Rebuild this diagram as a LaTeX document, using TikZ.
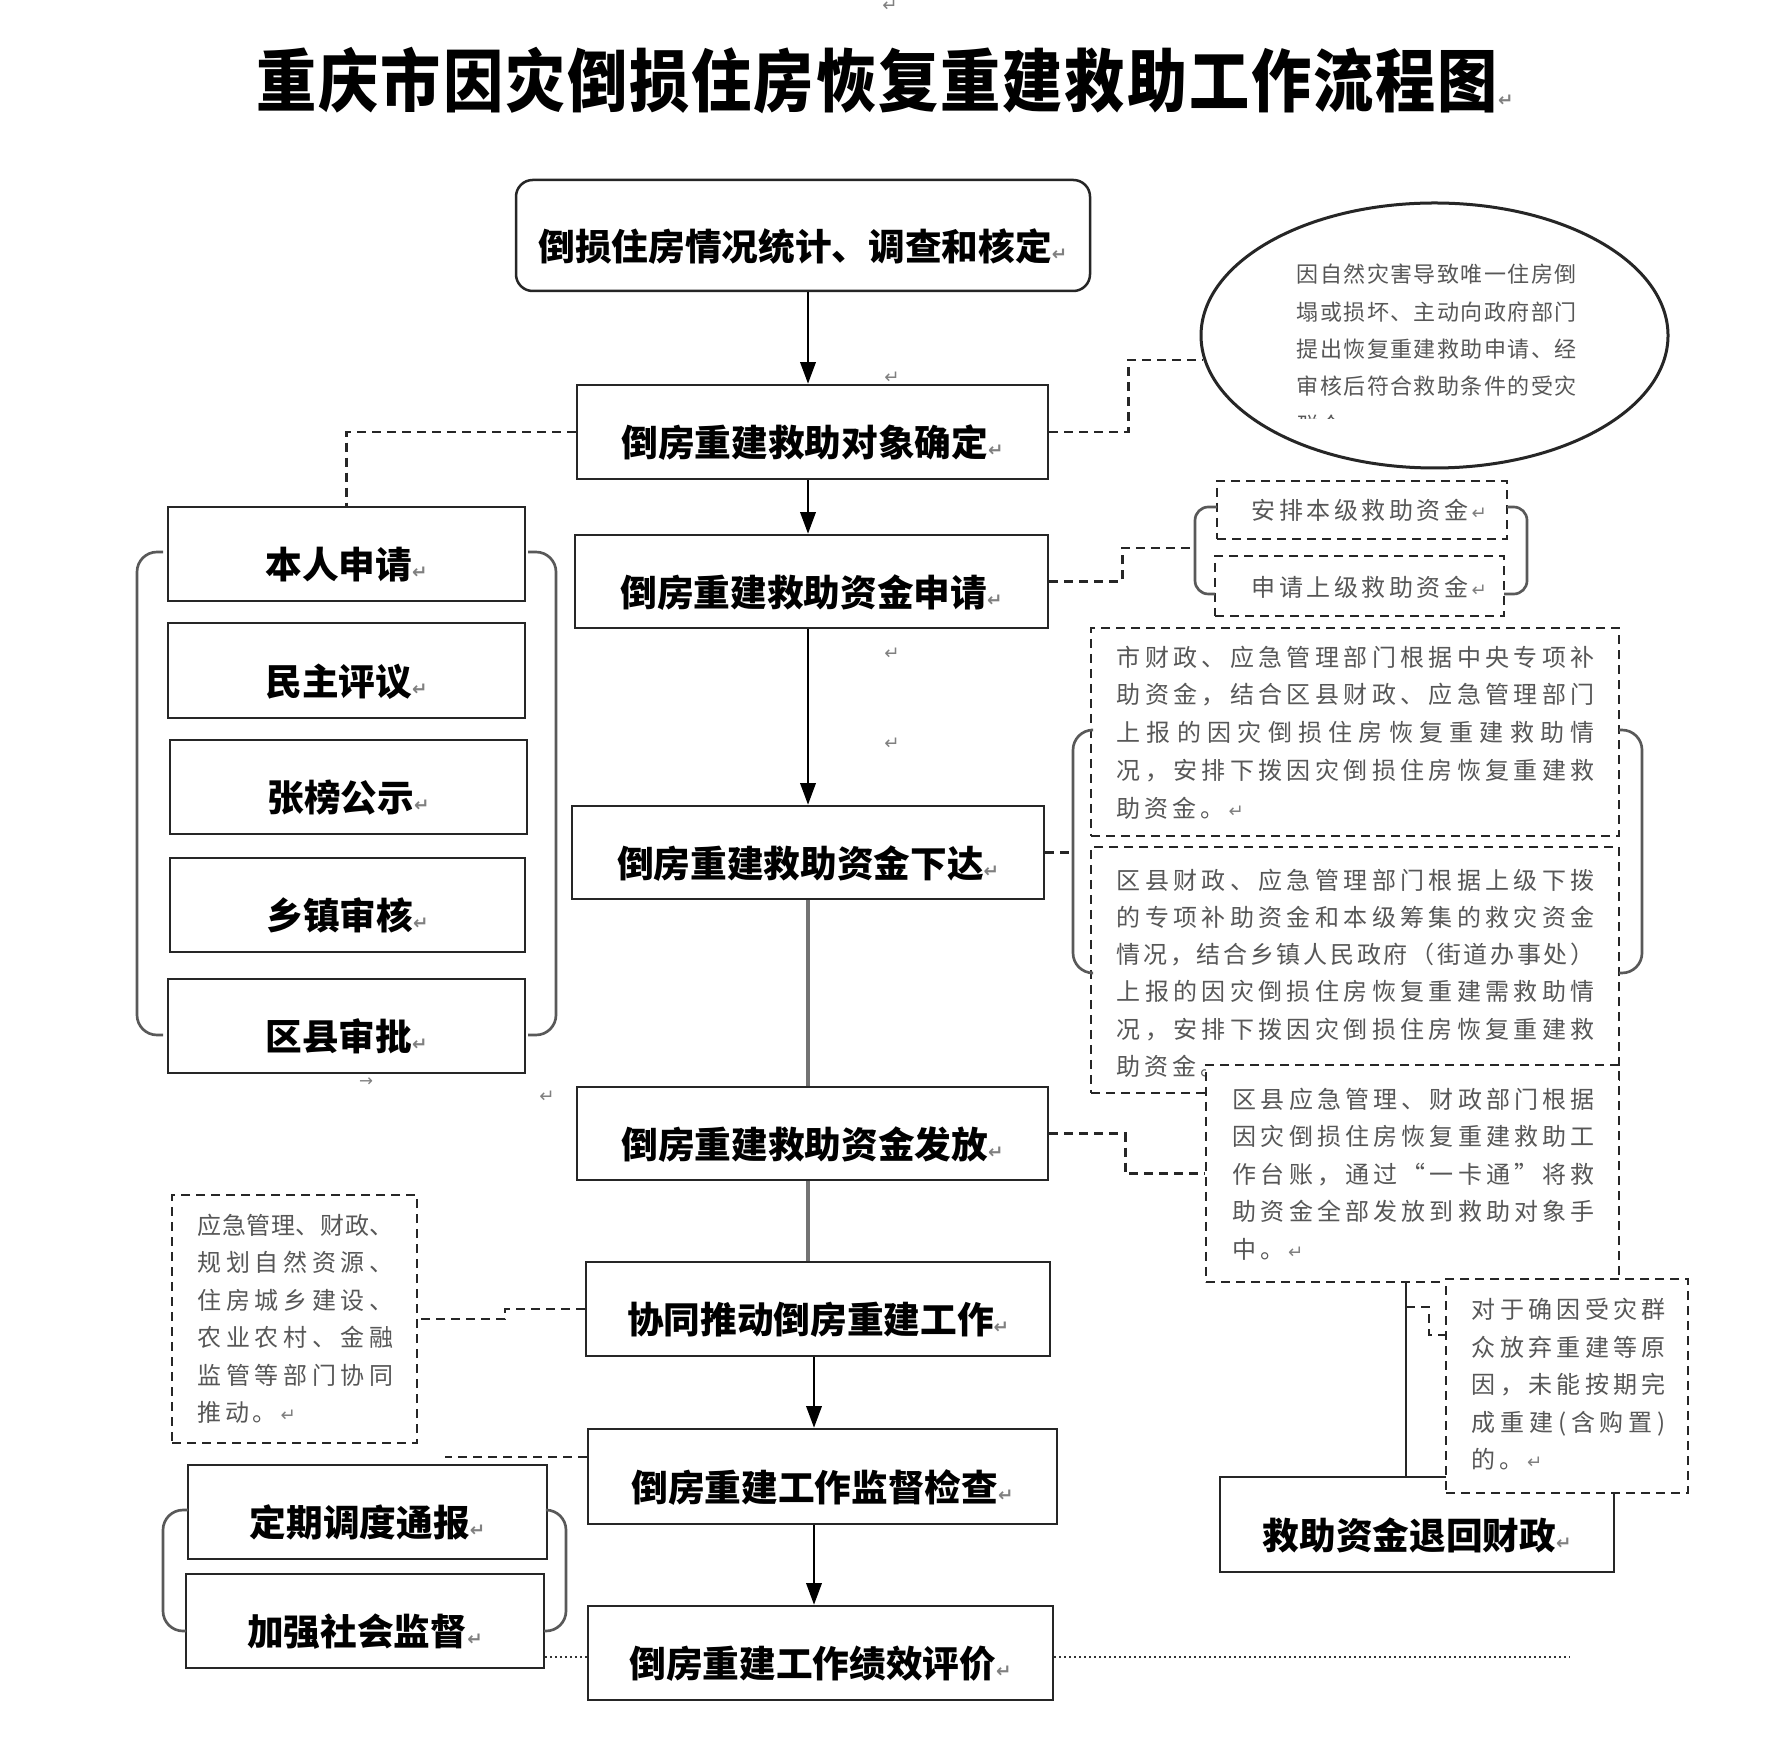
\documentclass[tikz,border=0pt]{standalone}
\usepackage{fontspec}
\usetikzlibrary{arrows.meta,shapes.geometric,fit}
\setmainfont{Noto Sans CJK SC}
\newfontfamily\cjk{Noto Sans CJK SC}
\newfontfamily\titlefont[FakeStretch=0.88,LetterSpace=3]{Noto Sans CJK SC}
\newfontfamily\dejavu{DejaVu Sans}
\newcommand\ret{{\dejavu\fontsize{5.5pt}{5.5pt}\selectfont\color{black!50}↵}}
\newcommand\dn[1]{\raisebox{-8pt}[\height][\depth]{#1}}
\newcommand\bxfont{\cjk\bfseries\fontsize{11pt}{13pt}\selectfont}
\newcommand\gsmall{\cjk\fontsize{6.6pt}{11.2pt}\selectfont}
\newcommand\gmid{\cjk\fontsize{7.2pt}{11.25pt}\selectfont}
\newdimen\jw
\newdimen\cpitch
\newcommand\setjw[2]{\global\jw=#1\relax\global\cpitch=#2\relax}
\makeatletter
\def\jl#1{\hbox to\jw{\jl@#1\@nil}}
\def\jl@#1{#1\futurelet\jl@next\jl@@}
\def\jl@@{\ifx\jl@next\@nil\expandafter\@gobble\else\hfill\expandafter\jl@\fi}
\def\cl#1{\cl@#1\@nil}
\def\cl@#1{\ifx#1\@nil\else\hbox to\cpitch{#1\hss}\expandafter\cl@\fi}
\makeatother
\tikzset{
 box/.style={draw=black!85,line width=0.75pt,fill=white,inner sep=0pt,font=\bxfont},
 rbox/.style={box,rounded corners=5pt},
 dbox/.style={draw=black!85,line width=0.75pt,dash pattern=on 2.7pt off 1.8pt,fill=white,inner sep=0pt},
 gtext/.style={text=black!66,inner sep=0pt,align=left,anchor=west},
 dsh/.style={draw=black!85,line width=0.75pt,dash pattern=on 2.7pt off 1.8pt},
 arr/.style={draw=black,line width=0.75pt,-{Triangle[length=6.5pt,width=4.6pt]}},
 gline/.style={draw=black!55,line width=1pt},
 sline/.style={draw=black!85,line width=0.8pt},
 brk/.style={draw=black!65,line width=0.8pt,rounded corners=6pt},
 sbrk/.style={draw=black!65,line width=0.8pt,rounded corners=4pt},
 dots/.style={draw=black!80,line width=0.8pt,dash pattern=on 0.6pt off 0.9pt},
 stray/.style={inner sep=0pt,text=black!50},
}
\begin{document}
\begin{tikzpicture}[x=0.3pt,y=-0.3pt]
\path[fill=white] (0,0) rectangle (1767,1758);
\useasboundingbox (0,0) rectangle (1767,1758);

% title
\node[inner sep=0pt,font=\titlefont\bfseries\fontsize{20.5pt}{24pt}\selectfont] (title) at (885,81) {重庆市因灾倒损住房恢复重建救助工作流程图\ret};

% stray paragraph marks
\node[stray] (m1) at (890,6) {\ret};
\node[stray] (m2) at (892,378) {\ret};
\node[stray] (m3) at (892,654) {\ret};
\node[stray] (m4) at (892,744) {\ret};
\node[stray] (m5) at (547,1097) {\ret};
\node[stray,font=\dejavu\fontsize{5pt}{5pt}\selectfont] (m6) at (366,1082) {→};

% spines
\coordinate (sa) at (808,0);
\coordinate (sb) at (814,0);

% main column
\node[rbox,fit={(516,180)(1090,291)}] (b1) {\dn{倒损住房情况统计、调查和核定\ret}};
\node[box,fit={(577,385)(1048,479)}] (b2) {\dn{倒房重建救助对象确定\ret}};
\node[box,fit={(575,535)(1048,628)}] (b3) {\dn{倒房重建救助资金申请\ret}};
\node[box,fit={(572,806)(1044,899)}] (b4) {\dn{倒房重建救助资金下达\ret}};
\node[box,fit={(577,1087)(1048,1180)}] (b5) {\dn{倒房重建救助资金发放\ret}};
\node[box,fit={(586,1262)(1050,1356)}] (b6) {\dn{协同推动倒房重建工作\ret}};
\node[box,fit={(588,1429)(1057,1524)}] (b7) {\dn{倒房重建工作监督检查\ret}};
\node[box,fit={(588,1606)(1053,1700)}] (b8) {\dn{倒房重建工作绩效评价\ret}};

\draw[arr] (sa |- b1.south) -- (sa |- b2.north);
\draw[arr] (sa |- b2.south) -- (sa |- b3.north);
\draw[arr] (sa |- b3.south) -- (sa |- b4.north);
\draw[gline] (sa |- b4.south) -- (sa |- b5.north);
\draw[gline] (sa |- b5.south) -- (sa |- b6.north);
\draw[arr] (sb |- b6.south) -- (sb |- b7.north);
\draw[arr] (sb |- b7.south) -- (sb |- b8.north);

% left column
\node[box,fit={(168,507)(525,601)}] (l1) {\dn{本人申请\ret}};
\node[box,fit={(168,623)(525,718)}] (l2) {\dn{民主评议\ret}};
\node[box,fit={(170,740)(527,834)}] (l3) {\dn{张榜公示\ret}};
\node[box,fit={(170,858)(525,952)}] (l4) {\dn{乡镇审核\ret}};
\node[box,fit={(168,979)(525,1073)}] (l5) {\dn{区县审批\ret}};
\draw[brk] (163,552) -- (137,552) -- (137,1035) -- (163,1035);
\draw[brk] (528,552) -- (556,552) -- (556,1035) -- (528,1035);
\draw[dsh] (b2.west) -| (l1.north);

% ellipse
\node[draw=black!85,line width=0.9pt,ellipse,fill=white,minimum width=140.1pt,minimum height=79.5pt,inner sep=0pt] (ell) at (1434.5,335.5) {};
\setjw{84pt}{7pt}
\node[gtext,font=\gsmall] (et) at (1296,330.5) {\jl{因自然灾害导致唯一住房倒}\\\jl{塌或损坏、主动向政府部门}\\\jl{提出恢复重建救助申请、经}\\\jl{审核后符合救助条件的受灾}};
\begin{scope}
\clip (1285,405) rectangle (1400,419);
\node[gtext,font=\gsmall] (et5) at (1296,425) {\cl{群众}};
\end{scope}
\draw[dsh] (b2.east) -- ++(79,0) |- (ell.186);

% funds request boxes
\node[dbox,fit={(1217,481)(1507,539)}] (r1) {};
\node[dbox,fit={(1215,556)(1504,616)}] (r2) {};
\setjw{80pt}{8.25pt}
\node[gtext,font=\gmid] (tr1) at (1251,510) {\cl{安排本级救助资金}\ret};
\node[gtext,font=\gmid] (tr2) at (1251,587) {\cl{申请上级救助资金}\ret};
\draw[sbrk] (1217,507) -- (1195,507) -- (1195,594) -- (1215,594);
\draw[sbrk] (1507,507) -- (1527,507) -- (1527,594) -- (1504,594);
\coordinate (k2) at (1195,548);
\draw[dsh] (b3.east) -- ++(73,0) |- (k2);

% funds issue boxes
\node[dbox,fit={(1091,628)(1619,836)}] (ra) {};
\setjw{143.4pt}{8.4pt}
\node[gtext,font=\cjk\fontsize{7.2pt}{11.34pt}\selectfont] (ta) at (1116,732.5) {\jl{市财政、应急管理部门根据中央专项补}\\\jl{助资金，结合区县财政、应急管理部门}\\\jl{上报的因灾倒损住房恢复重建救助情}\\\jl{况，安排下拨因灾倒损住房恢复重建救}\\\cl{助资金。}\ret};
\node[dbox,fit={(1091,847)(1619,1093)}] (rb) {};
\node[gtext,font=\cjk\fontsize{7.2pt}{11.16pt}\selectfont] (tb) at (1116,973) {\jl{区县财政、应急管理部门根据上级下拨}\\\jl{的专项补助资金和本级筹集的救灾资金}\\\jl{情况，结合乡镇人民政府（街道办事处）}\\\jl{上报的因灾倒损住房恢复重建需救助情}\\\jl{况，安排下拨因灾倒损住房恢复重建救}\\\cl{助资金。}};
\draw[brk] (1091,730) -- (1073,730) -- (1073,973) -- (1091,973);
\draw[brk] (1619,730) -- (1642,730) -- (1642,973) -- (1619,973);
\coordinate (k3) at (1073,851.5);
\draw[dsh] (b4.east) -- (b4.east -| k3);

% distribution box
\node[dbox,fit={(1206,1065)(1619,1282)}] (c) {};
\setjw{108.6pt}{8.3pt}
\node[gtext,font=\gmid] (tc) at (1232,1174) {\jl{区县应急管理、财政部门根据}\\\jl{因灾倒损住房恢复重建救助工}\\\jl{作台账，通过“一卡通”将救}\\\jl{助资金全部发放到救助对象手}\\\cl{中。}\ret};
\draw[dsh] (b5.east) -- ++(76,0) |- (c.west);

% return of funds
\node[box,fit={(1220,1477)(1614,1572)}] (e) {\dn{救助资金退回财政\ret}};
\coordinate (cl) at (1406,1307);
\draw[sline] (cl |- c.south) -- (cl |- e.north);
\node[dbox,fit={(1446,1279)(1688,1493)}] (d) {};
\setjw{58.2pt}{8.3pt}
\node[gtext,font=\gmid] (td) at (1471,1384.5) {\jl{对于确因受灾群}\\\jl{众放弃重建等原}\\\jl{因，未能按期完}\\\jl{成重建(含购置)}\\\cl{的。}\ret};
\coordinate (dm) at (1446,1335);
\draw[dsh] (cl) -- ++(23,0) |- (dm);

% cooperation box
\node[dbox,fit={(172,1195)(417,1443)}] (f) {};
\setjw{58.8pt}{8.3pt}
\node[gtext,font=\gmid] (tf) at (197,1319) {\jl{应急管理、财政、}\\\jl{规划自然资源、}\\\jl{住房城乡建设、}\\\jl{农业农村、金融}\\\jl{监管等部门协同}\\\cl{推动。}\ret};
\draw[dsh] (b6.west) -- ++(-80,0) |- (f.east);

% supervision
\coordinate (q7) at (445,1457);
\draw[dsh] (b7.west |- q7) -- (q7);
\node[box,fit={(188,1465)(547,1559)}] (g1) {\dn{定期调度通报\ret}};
\node[box,fit={(186,1574)(544,1668)}] (g2) {\dn{加强社会监督\ret}};
\draw[brk] (188,1510) -- (163,1510) -- (163,1631) -- (186,1631);
\draw[brk] (547,1510) -- (566,1510) -- (566,1631) -- (544,1631);
\coordinate (dt) at (1570,1657);
\draw[dots] (g2.east |- dt) -- (b8.west |- dt);
\draw[dots] (b8.east |- dt) -- (dt);
\end{tikzpicture}
\end{document}
